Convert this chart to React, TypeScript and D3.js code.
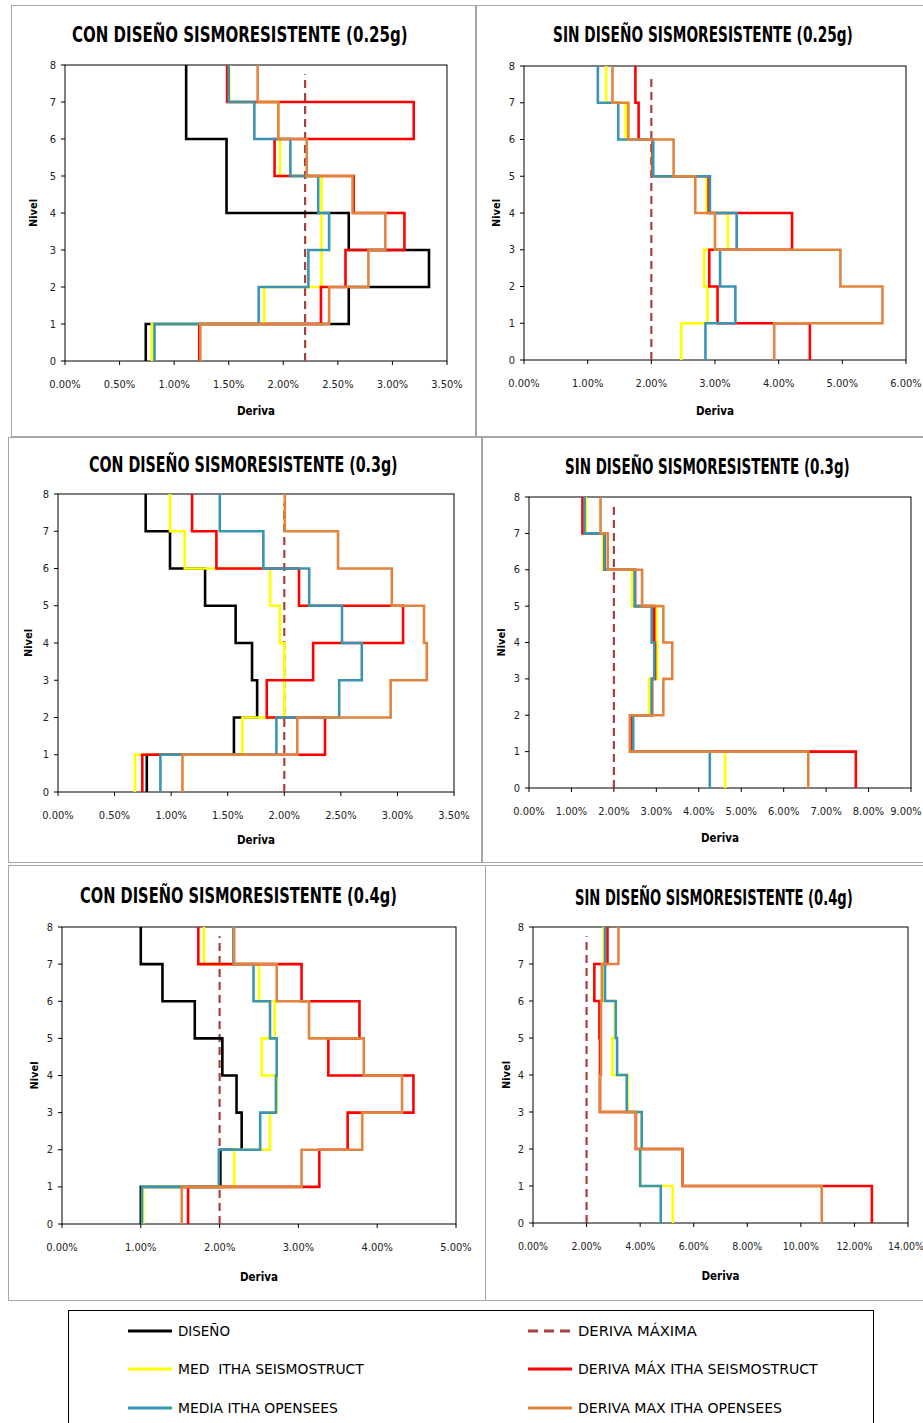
import React, { useLayoutEffect, useRef, useState } from 'react';
import * as d3 from 'd3';

// drift per story (story 1 at the bottom -> story 8 at the top), in %
const stories = [1, 2, 3, 4, 5, 6, 7, 8];
const levelTicks = [0, 1, 2, 3, 4, 5, 6, 7, 8];

const con025Diseno = [0.74, 2.60, 3.335, 2.60, 1.48, 1.48, 1.11, 1.11];
const con025MedSeismo = [0.795, 1.825, 2.35, 2.35, 2.35, 1.97, 1.955, 1.505];
const con025MaxSeismo = [1.23, 2.345, 2.57, 3.11, 2.645, 1.92, 3.195, 1.485];
const con025MedOpen = [0.82, 1.775, 2.23, 2.42, 2.32, 2.065, 1.735, 1.50];
const con025MaxOpen = [1.24, 2.42, 2.78, 2.935, 2.635, 2.215, 1.955, 1.765];
const con025Limite = 2.2;

const sin025MedSeismo = [2.47, 2.88, 2.83, 3.20, 2.87, 2.02, 1.60, 1.29];
const sin025MaxSeismo = [4.49, 3.04, 2.91, 4.21, 2.90, 2.02, 1.80, 1.75];
const sin025MedOpen = [2.85, 3.32, 3.08, 3.34, 2.92, 2.03, 1.48, 1.16];
const sin025MaxOpen = [3.93, 5.63, 4.97, 3.00, 2.69, 2.35, 1.64, 1.39];
const sin025Limite = 2.0;

const con03Diseno = [0.785, 1.555, 1.76, 1.715, 1.57, 1.30, 0.99, 0.775];
const con03MedSeismo = [0.68, 1.63, 2.00, 2.00, 1.96, 1.875, 1.12, 0.99];
const con03MaxSeismo = [0.745, 2.36, 1.845, 2.255, 3.05, 2.13, 1.40, 1.185];
const con03MedOpen = [0.905, 1.93, 2.485, 2.685, 2.51, 2.22, 1.815, 1.43];
const con03MaxOpen = [1.10, 2.115, 2.94, 3.26, 3.235, 2.95, 2.475, 2.005];
const con03Limite = 2.0;

const sin03MedSeismo = [4.62, 2.41, 2.83, 3.02, 3.00, 2.43, 1.74, 1.34];
const sin03MaxSeismo = [7.70, 2.40, 2.90, 2.97, 2.95, 2.50, 1.78, 1.26];
const sin03MedOpen = [4.26, 2.455, 2.89, 2.95, 2.89, 2.49, 1.78, 1.31];
const sin03MaxOpen = [6.58, 2.375, 3.165, 3.375, 3.165, 2.665, 1.855, 1.685];
const sin03Limite = 2.0;

const con04Diseno = [1.00, 2.01, 2.28, 2.215, 2.035, 1.685, 1.275, 1.00];
const con04MedSeismo = [1.03, 2.185, 2.64, 2.725, 2.535, 2.70, 2.50, 1.80];
const con04MaxSeismo = [1.60, 3.265, 3.625, 4.46, 3.38, 3.775, 3.04, 1.73];
const con04MedOpen = [1.015, 1.99, 2.515, 2.715, 2.725, 2.64, 2.43, 2.175];
const con04MaxOpen = [1.52, 3.04, 3.81, 4.315, 3.83, 3.135, 2.725, 2.185];
const con04Limite = 2.0;

const sin04MedSeismo = [5.22, 4.00, 4.06, 3.54, 2.96, 3.06, 2.64, 2.64];
const sin04MaxSeismo = [12.65, 5.58, 3.84, 2.50, 2.50, 2.48, 2.29, 2.78];
const sin04MedOpen = [4.77, 4.00, 4.06, 3.50, 3.14, 3.09, 2.69, 2.69];
const sin04MaxOpen = [10.78, 5.58, 3.84, 2.50, 2.54, 2.54, 2.57, 3.19];
const sin04Limite = 2.0;

const legendNames = ['DISEÑO', 'DERIVA MÁXIMA', 'MED  ITHA SEISMOSTRUCT', 'DERIVA MÁX ITHA SEISMOSTRUCT', 'MEDIA ITHA OPENSEES', 'DERIVA MAX ITHA OPENSEES'];

const BLACK = '#000000';
const YELLOW = '#ffff00';
const RED = '#ff0000';
const BLUE = '#3a95b3';
const ORANGE = '#e0843e';
const DASH = '#a8403c';

const FONT = "'Liberation Sans Narrow','Arial Narrow','DejaVu Sans Condensed',sans-serif";

const panels = [
  { title: 'CON DISEÑO SISMORESISTENTE (0.25g)', tx: 72, tw: 336, ty: 42, box: [11, 5, 464, 431],
    plot: [65, 65, 447, 361], xmax: 3.5, step: 0.5, derivaDy: 54, nivelX: 33,
    diseno: con025Diseno, medS: con025MedSeismo, maxS: con025MaxSeismo, medO: con025MedOpen, maxO: con025MaxOpen, lim: con025Limite },
  { title: 'SIN DISEÑO SISMORESISTENTE (0.25g)', tx: 553, tw: 300, ty: 42, box: [476, 5, 460, 431],
    plot: [524, 66, 906, 360], xmax: 6, step: 1, derivaDy: 55, nivelX: 496,
    diseno: null, medS: sin025MedSeismo, maxS: sin025MaxSeismo, medO: sin025MedOpen, maxO: sin025MaxOpen, lim: sin025Limite },
  { title: 'CON DISEÑO SISMORESISTENTE (0.3g)', tx: 89, tw: 309, ty: 472, box: [8, 437, 473, 425],
    plot: [58, 494, 454, 792], xmax: 3.5, step: 0.5, derivaDy: 52, nivelX: 28,
    diseno: con03Diseno, medS: con03MedSeismo, maxS: con03MaxSeismo, medO: con03MedOpen, maxO: con03MaxOpen, lim: con03Limite },
  { title: 'SIN DISEÑO SISMORESISTENTE (0.3g)', tx: 565, tw: 285, ty: 474, box: [482, 437, 450, 425],
    plot: [529, 497, 911, 788], xmax: 9, step: 1, derivaDy: 54, nivelX: 501,
    diseno: null, medS: sin03MedSeismo, maxS: sin03MaxSeismo, medO: sin03MedOpen, maxO: sin03MaxOpen, lim: sin03Limite },
  { title: 'CON DISEÑO SISMORESISTENTE (0.4g)', tx: 80, tw: 317, ty: 903, box: [8, 865, 477, 435],
    plot: [62, 927, 456, 1224], xmax: 5, step: 1, derivaDy: 57, nivelX: 34,
    diseno: con04Diseno, medS: con04MedSeismo, maxS: con04MaxSeismo, medO: con04MedOpen, maxO: con04MaxOpen, lim: con04Limite },
  { title: 'SIN DISEÑO SISMORESISTENTE (0.4g)', tx: 575, tw: 278, ty: 905, box: [485, 865, 450, 435],
    plot: [533, 927, 908, 1223], xmax: 14, step: 2, derivaDy: 57, nivelX: 506,
    diseno: null, medS: sin04MedSeismo, maxS: sin04MaxSeismo, medO: sin04MedOpen, maxO: sin04MaxOpen, lim: sin04Limite },
];

function stepPoints(drifts: number[]) {
  const pts: [number, number][] = [];
  drifts.forEach((d, i) => {
    pts.push([d, stories[i] - 1]);
    pts.push([d, stories[i]]);
  });
  return pts;
}

// text squeezed horizontally to a given width (condensed look of the original)
function FitText({ x, y, width, size, bold, children }: any) {
  const ref = useRef<SVGTextElement>(null);
  const [sx, setSx] = useState(1);
  useLayoutEffect(() => {
    if (ref.current) {
      const len = ref.current.getComputedTextLength();
      if (len > 0) setSx(width / len);
    }
  }, [width, children]);
  return (
    <text ref={ref} transform={`translate(${x},${y}) scale(${sx},1)`} fontFamily={FONT} fontWeight={bold ? 'bold' : 'normal'}
      fontSize={size} fill="#000" style={{ whiteSpace: 'pre' }}>{children}</text>
  );
}

function Panel({ p }: { p: any }) {
  const [x0, y0, x1, y1] = p.plot;
  const x = d3.scaleLinear().domain([0, p.xmax]).range([x0, x1]);
  const y = d3.scaleLinear().domain([0, 8]).range([y1, y0]);
  const line = d3.line<[number, number]>().x(d => x(d[0])).y(d => y(d[1]));
  const xTicks = d3.range(0, p.xmax + p.step / 2, p.step);
  const fmt = d3.format('.2f');
  const series = [
    { data: p.diseno, color: BLACK },
    { data: p.medS, color: YELLOW },
    { data: p.maxS, color: RED },
    { data: p.medO, color: BLUE },
    { data: p.maxO, color: ORANGE },
  ].filter(s => s.data);

  return (
    <g>
      <rect x={p.box[0] + 0.5} y={p.box[1] + 0.5} width={p.box[2]} height={p.box[3]} fill="#fff" stroke="#a6a6a6" strokeWidth={1} />
      <FitText x={p.tx} y={p.ty} width={p.tw} size={22} bold>{p.title}</FitText>
      <rect x={x0} y={y0} width={x1 - x0} height={y1 - y0} fill="none" stroke="#000" strokeWidth={1} />
      {levelTicks.map(v => (
        <g key={'y' + v}>
          <line x1={x0 - 4} x2={x0} y1={y(v)} y2={y(v)} stroke="#000" />
          <text x={x0 - 9} y={y(v) + 3.5} textAnchor="end" fontFamily={FONT} fontSize={11} fill="#222">{v}</text>
        </g>
      ))}
      {xTicks.map(v => (
        <g key={'x' + v}>
          <line x1={x(v)} x2={x(v)} y1={y1} y2={y1 + 4} stroke="#000" />
          <text x={Math.min(x(v), 921 - 15)} y={y1 + 27} textAnchor="middle" fontFamily={FONT} fontSize={p.xmax > 10 ? 10.5 : 11} fill="#222">{fmt(v) + '%'}</text>
        </g>
      ))}
      <text x={(x0 + x1) / 2} y={y1 + p.derivaDy} textAnchor="middle" fontFamily={FONT} fontWeight="bold" fontSize={11.5} fill="#000">Deriva</text>
      <text transform={`translate(${p.nivelX},${(y0 + y1) / 2}) rotate(-90)`} textAnchor="middle" dy={4} fontFamily={FONT} fontWeight="bold" fontSize={11} fill="#000">Nivel</text>
      <line x1={x(p.lim)} x2={x(p.lim)} y1={y(0)} y2={y(7.75)} stroke={DASH} strokeWidth={2.2} strokeDasharray="8,5" />
      {series.map((s, i) => (
        <path key={i} d={line(stepPoints(s.data)) || ''} fill="none" stroke={s.color} strokeWidth={2.6} />
      ))}
    </g>
  );
}

const legendCols = [128, 528];
const legendRows = [1331, 1369, 1408];
const legendColors = [BLACK, DASH, YELLOW, RED, BLUE, ORANGE];
const legendWidths = [52, 119, 186, 240, 160, 204];

export default function App() {
  return (
    <svg width={923} height={1423} style={{ position: 'absolute', left: 0, top: 0, background: '#fff' }}>
      <rect width={923} height={1423} fill="#fff" />
      {panels.map((p, i) => <Panel key={i} p={p} />)}
      <rect x={68.5} y={1310.5} width={805} height={130} fill="#fff" stroke="#000" strokeWidth={1} />
      {legendNames.map((name, i) => {
        const cx = legendCols[i % 2];
        const cy = legendRows[Math.floor(i / 2)];
        return (
          <g key={name}>
            <line x1={cx} x2={cx + 44} y1={cy} y2={cy} stroke={legendColors[i]} strokeWidth={2.8}
              strokeDasharray={i === 1 ? '10,6' : undefined} />
            <FitText x={cx + 50} y={cy + 5} width={legendWidths[i]} size={14}>{name}</FitText>
          </g>
        );
      })}
    </svg>
  );
}
